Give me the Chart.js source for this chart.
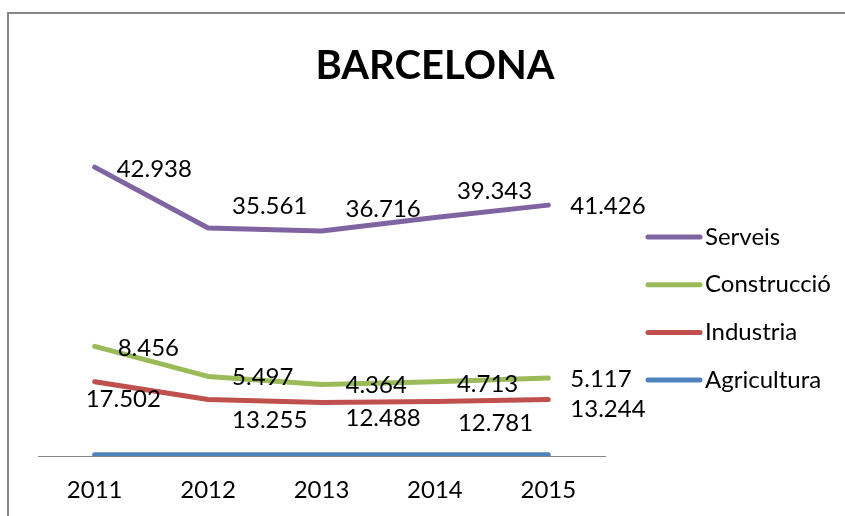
<!DOCTYPE html>
<html>
<head>
<meta charset="utf-8">
<script src="https://cdn.jsdelivr.net/npm/chart.js@4/dist/chart.umd.min.js"></script>
<style>
  html,body{margin:0;padding:0;background:#fff;}
  #wrap{width:845px;height:516px;position:relative;}
</style>
</head>
<body>
<div id="wrap"><canvas id="chart" width="845" height="516"></canvas></div>
<script>
// data (stacked lines, in thousands)
const years = ['2011','2012','2013','2014','2015'];
const agricultura = [0.3, 0.3, 0.3, 0.3, 0.3];
const industria = [17.502, 13.255, 12.488, 12.781, 13.244];
const construccio = [8.456, 5.497, 4.364, 4.713, 5.117];
const serveis = [42.938, 35.561, 36.716, 39.343, 41.426];
const titleText = 'BARCELONA';

const FONT = 'Lato, "Open Sans", sans-serif';

// where Excel put each value label, relative to its point
const labelNudge = {
  'Serveis':     [[22,2],[24,-22],[24,-22],[22,-26],[22,1]],
  'Construcció': [[23,2],[24,1],[24,1],[22,3],[22,1]],
  'Industria':   [[-9,18],[24,21],[24,16],[23,22],[22,10]]
};

const frame = {
  id:'frame',
  beforeDraw(c){
    const ctx=c.ctx; ctx.save();
    ctx.strokeStyle='#878787'; ctx.lineWidth=2;
    ctx.beginPath(); ctx.moveTo(8,516); ctx.lineTo(8,13); ctx.lineTo(845,13); ctx.stroke();
    ctx.fillStyle='#000'; ctx.font='bold 40px '+FONT;
    ctx.textAlign='center'; ctx.textBaseline='middle';
    ctx.fillText(titleText,435,66);
    ctx.restore();
  }
};

const valueLabels = {
  id:'valueLabels',
  afterDatasetsDraw(c){
    const ctx=c.ctx; ctx.save();
    ctx.font='24px '+FONT; ctx.fillStyle='#000';
    ctx.textAlign='left'; ctx.textBaseline='middle';
    c.data.datasets.forEach((ds,i)=>{
      const nudge=labelNudge[ds.label]; if(!nudge) return;
      c.getDatasetMeta(i).data.forEach((pt,j)=>{
        ctx.fillText(ds.data[j].toFixed(3),pt.x+nudge[j][0],pt.y+nudge[j][1]);
      });
    });
    ctx.restore();
  }
};

const sideLegend = {
  id:'sideLegend',
  afterDraw(c){
    const ctx=c.ctx; ctx.save();
    ctx.font='24px '+FONT; ctx.textAlign='left'; ctx.textBaseline='middle';
    const items=[...c.data.datasets].reverse();
    items.forEach((ds,k)=>{
      const y=237+k*47.7;
      ctx.strokeStyle=ds.borderColor; ctx.lineWidth=5; ctx.lineCap='round';
      ctx.beginPath(); ctx.moveTo(648,y); ctx.lineTo(700,y); ctx.stroke();
      ctx.fillStyle='#000'; ctx.fillText(ds.label,705,y);
    });
    ctx.restore();
  }
};

const mk=(label,data,color)=>({label,data,borderColor:color,backgroundColor:color,
  borderWidth:5,borderCapStyle:'round',borderJoinStyle:'round',pointRadius:0,tension:0,fill:false});

new Chart(document.getElementById('chart'),{
  type:'line',
  data:{labels:years,datasets:[
    mk('Agricultura',agricultura,'#4F81BD'),
    mk('Industria',industria,'#C0504D'),
    mk('Construcció',construccio,'#9BBB59'),
    mk('Serveis',serveis,'#8064A2')
  ]},
  options:{
    responsive:false,animation:false,
    layout:{padding:{left:38,right:240,top:122,bottom:10}},
    plugins:{legend:{display:false},title:{display:false},tooltip:{enabled:false}},
    scales:{
      x:{offset:true,grid:{display:false,drawTicks:false},
         border:{display:true,color:'#868686',width:1},
         ticks:{color:'#000',font:{family:FONT,size:24},padding:20},
         afterFit:s=>{s.height=50;}},
      y:{display:false,stacked:true,min:0,max:80}
    }
  },
  plugins:[frame,valueLabels,sideLegend]
});
</script>
</body>
</html>
